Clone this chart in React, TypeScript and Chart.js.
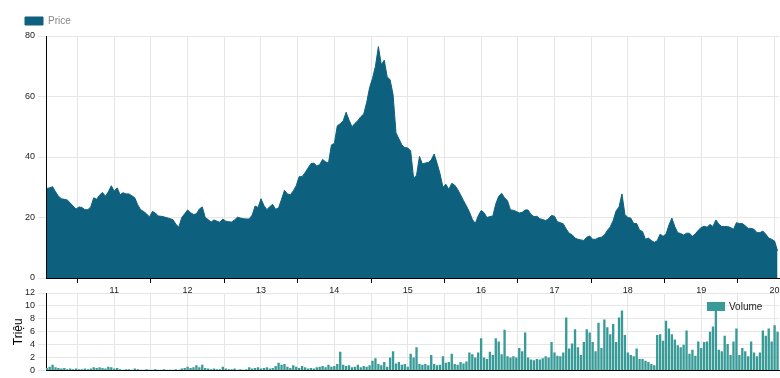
import React, { useEffect, useRef } from 'react';
import { Chart, registerables } from 'chart.js';
Chart.register(...registerables);

// Sampling of the series (years, decimal)
const START_YEAR = 2010.08;
const STEP_YEARS = 0.04;
const X_MIN = 2010.07;
const X_MAX = 2020.06;

// Half-year grid ticks; whole years get labels
const TICK_YEARS = [2010.5, 2011, 2011.5, 2012, 2012.5, 2013, 2013.5, 2014, 2014.5, 2015, 2015.5, 2016, 2016.5, 2017, 2017.5, 2018, 2018.5, 2019, 2019.5, 2020];

const PRICE = [
  29.6, 29.8, 30.2, 28.5, 27, 26.2, 26, 25.8, 24.8, 23.8,
  22.8, 23.5, 23.3, 22.6, 22.6, 23.5, 26.5, 26, 27.4, 28.3,
  27, 28.5, 30.5, 28.7, 29.8, 27.5, 28.2, 27.8, 27.8, 27.2,
  26.5, 24.2, 22.6, 22, 21.2, 20.2, 22, 21.5, 20.5, 20.4,
  20.2, 19.9, 19.6, 19.3, 17.8, 16.8, 20, 21.2, 22.5, 21.6,
  21, 21.2, 22.8, 23.5, 20, 19.3, 18.5, 19.2, 18.8, 18.4,
  19.5, 18.8, 18.6, 18.5, 19.2, 20.1, 19.8, 19.6, 19.5, 19.5,
  20.8, 23.8, 23.3, 26.2, 24, 22.6, 23.6, 24.3, 22.7, 23.2,
  26, 29, 27.8, 27.5, 28.8, 30.5, 33.5, 33.5, 34.8, 36.3,
  37.8, 38, 37, 37.5, 39.2, 38.4, 38, 44, 44.5, 50.3,
  51, 51.9, 54.8, 52.2, 50, 51.1, 52, 53.3, 54.2, 58,
  62.9, 66, 70, 76.5, 70.5, 72, 66.5, 65.5, 60.7, 48,
  46, 44, 43.1, 43, 42, 33, 34, 40.2, 37.7, 38,
  38.2, 39, 41, 37.9, 34.5, 30, 31, 29.3, 31.3, 30.7,
  29.3, 27.5, 25.6, 23.8, 21.9, 19.4, 18, 20.5, 22.3, 21.6,
  20, 20.3, 20.5, 24.5, 27, 28, 26.5, 25.5, 22.5, 22.4,
  22, 21.5, 21.7, 22.5, 22.5, 21, 20.3, 20.4, 19.6, 19.3,
  19, 19.6, 20.7, 20.4, 18.6, 18.3, 17.9, 16.2, 14.8, 14.3,
  13.2, 12.8, 12.6, 12.4, 13.5, 13.9, 12.8, 12.8, 13.3, 13.5,
  14.2, 15.7, 16.9, 19, 22.2, 23.5, 27.8, 21, 20, 19.8,
  18, 18, 15.8, 15.4, 12.8, 13.2, 12.4, 11.8, 12.3, 14.5,
  13.8, 14.5, 17.5, 19.8, 17, 15, 14.7, 14.2, 14.8, 14.8,
  13.8, 14.6, 15.8, 16.7, 17.1, 16.8, 17.7, 17, 19.2, 17.8,
  17, 17, 17, 16.7, 16.1, 18.3, 18, 18, 17.3, 16.4,
  16.4, 16.1, 15, 15, 15.5, 14.5, 13.2, 12.8, 12.2, 9,
];

// Volume in millions ("Triệu")
const VOLUME = [
  0.4, 0.6, 0.9, 0.5, 0.4, 0.3, 0.4, 0.2, 0.3, 0.2,
  0.3, 0.2, 0.2, 0.3, 0.2, 0.3, 0.5, 0.4, 0.5, 0.4,
  0.3, 0.6, 0.5, 0.3, 0.4, 0.2, 0.1, 0.2, 0.2, 0.1,
  0.3, 0.2, 0.1, 0.1, 0.2, 0.1, 0.1, 0.2, 0.1, 0.1,
  0.2, 0.1, 0.1, 0.1, 0.2, 0.1, 0.3, 0.4, 0.6, 0.4,
  0.5, 0.8, 0.5, 0.9, 0.4, 0.3, 0.2, 0.3, 0.2, 0.2,
  0.6, 0.3, 0.2, 0.2, 0.3, 0.1, 0.2, 0.1, 0.2, 0.5,
  0.3, 0.4, 0.5, 0.3, 0.4, 0.5, 0.3, 0.4, 0.7, 1.2,
  0.9, 1.0, 0.6, 0.4, 0.8, 0.6, 0.4, 0.7, 0.5, 0.3,
  0.4, 0.3, 0.5, 0.6, 0.7, 0.5, 0.9, 0.6, 0.7, 1.0,
  2.9, 0.9, 0.7, 0.8, 0.5, 0.6, 0.9, 0.5, 0.7, 0.6,
  0.8, 1.5, 1.9, 1.0, 0.8, 1.3, 0.6, 2.0, 3.0, 1.1,
  1.3, 0.9, 1.0, 0.6, 2.6, 2.0, 3.6, 1.0, 0.9, 1.0,
  0.8, 2.4, 1.0, 0.8, 0.9, 2.2, 1.2, 1.3, 2.6, 1.0,
  0.9, 1.3, 1.1, 1.4, 2.8, 2.5, 2.0, 2.8, 5.0, 2.0,
  1.8, 2.9, 2.4, 5.0, 4.5, 2.5, 6.3, 2.2, 2.0, 2.2,
  2.0, 3.5, 3.0, 5.9, 2.0, 1.7, 1.6, 1.8, 1.7, 1.9,
  2.2, 2.0, 4.4, 2.8, 2.3, 2.2, 2.8, 8.2, 3.4, 4.2,
  6.4, 3.6, 2.4, 4.4, 6.4, 5.9, 4.4, 3.0, 7.4, 3.5,
  7.9, 6.7, 5.6, 7.2, 4.4, 8.2, 9.3, 5.5, 2.8, 2.4,
  2.2, 3.4, 1.8, 1.8, 1.5, 1.3, 1.0, 0.8, 5.5, 5.6,
  4.6, 7.7, 6.5, 5.6, 4.8, 3.9, 3.6, 4.0, 6.2, 2.6,
  3.2, 2.3, 4.5, 3.5, 4.4, 4.5, 6.0, 6.8, 10.0, 3.2,
  3.0, 5.4, 4.1, 2.4, 4.5, 6.5, 2.4, 3.5, 3.0, 2.2,
  4.5, 2.8, 2.2, 2.8, 6.2, 5.4, 6.5, 4.5, 7.0, 6.0,
];

const PRICE_COLOR = '#0e617e';
const VOL_COLOR = '#389b98';
const GRID = '#e6e6e6';
const FAMILY = 'Arial, "Liberation Sans", sans-serif';

// Legend drawn inside the plot area, top-right (like the reference)
const insideLegend = {
  id: 'insideLegend',
  afterDatasetsDraw(chart: any) {
    const { ctx, chartArea } = chart;
    const ds = chart.data.datasets[0];
    const boxX = chartArea.right - 72;
    const boxY = chartArea.top + 9;
    ctx.save();
    ctx.fillStyle = ds.backgroundColor;
    ctx.fillRect(boxX, boxY, 18, 9);
    ctx.fillStyle = '#222';
    ctx.font = `10px ${FAMILY}`;
    ctx.textBaseline = 'middle';
    ctx.textAlign = 'left';
    ctx.fillText(ds.label, boxX + 22, boxY + 5);
    ctx.restore();
  },
};

export default function App() {
  const topRef = useRef<HTMLCanvasElement>(null);
  const botRef = useRef<HTMLCanvasElement>(null);

  useEffect(() => {
    document.body.style.margin = '0';
    const xs = PRICE.map((_, i) => START_YEAR + i * STEP_YEARS);
    const pricePts = PRICE.map((y, i) => ({ x: xs[i], y }));
    const volPts = VOLUME.map((y, i) => ({ x: xs[i], y }));
    const setTicks = (s: any) => { s.ticks = TICK_YEARS.map((v) => ({ value: v })); };

    const top = new Chart(topRef.current!, {
      type: 'line',
      data: {
        datasets: [{
          label: 'Price', data: pricePts, borderColor: PRICE_COLOR, backgroundColor: PRICE_COLOR,
          fill: 'origin', pointRadius: 0, borderWidth: 1, tension: 0,
        }],
      },
      options: {
        responsive: false, animation: false, devicePixelRatio: 1,
        layout: { padding: { left: 15, right: 1, top: 6, bottom: 0 } },
        plugins: {
          legend: {
            display: true, position: 'top', align: 'start',
            labels: { boxWidth: 18, boxHeight: 8, padding: 10, color: '#888', font: { family: FAMILY, size: 10 } },
          },
          tooltip: { enabled: false },
        },
        scales: {
          x: {
            type: 'linear', min: X_MIN, max: X_MAX,
            afterBuildTicks: setTicks,
            afterFit: (s: any) => { s.paddingLeft = 0; s.paddingRight = 0; s.height = 18; },
            ticks: {
              autoSkip: false, maxRotation: 0, color: '#222', padding: 2,
              font: { family: FAMILY, size: 9 },
              callback: (v: any) => (Number.isInteger(v) ? String(v % 100).padStart(2, '0') : ''),
            },
            grid: {
              color: GRID, tickLength: 5,
              tickColor: (c: any) => (c.tick && c.tick.value % 1 !== 0 ? '#000' : 'rgba(0,0,0,0)'),
            },
            border: { color: '#000' },
          },
          y: {
            min: 0, max: 80,
            afterFit: (s: any) => { s.width = 31; },
            ticks: { stepSize: 20, color: '#222', font: { family: FAMILY, size: 9 } },
            grid: { color: GRID },
            border: { color: '#000' },
          },
        },
      } as any,
    });

    const bot = new Chart(botRef.current!, {
      type: 'bar',
      data: {
        datasets: [{
          label: 'Volume', data: volPts as any, backgroundColor: VOL_COLOR, borderWidth: 0,
          barPercentage: 0.8, categoryPercentage: 1,
        }],
      },
      plugins: [insideLegend],
      options: {
        responsive: false, animation: false, devicePixelRatio: 1,
        layout: { padding: { left: 0, right: 1, top: 9, bottom: 7.5 } },
        plugins: {
          legend: { display: false },
          tooltip: { enabled: false },
        },
        scales: {
          x: {
            type: 'linear', min: X_MIN, max: X_MAX, offset: false,
            afterBuildTicks: setTicks,
            afterFit: (s: any) => { s.paddingLeft = 0; s.paddingRight = 0; s.height = 0; },
            ticks: { display: false },
            grid: { color: GRID, drawTicks: false, offset: false },
            border: { color: '#000' },
          },
          y: {
            min: 0, max: 12,
            afterFit: (s: any) => { s.width = 46; s.paddingTop = 0; s.paddingBottom = 0; },
            ticks: { stepSize: 2, autoSkip: false, color: '#222', font: { family: FAMILY, size: 9 } },
            title: { display: true, text: 'Triệu', color: '#000', font: { family: FAMILY, size: 12 }, padding: { top: 11, bottom: 0 } },
            grid: { color: GRID },
            border: { color: '#000' },
          },
        },
      } as any,
    });

    return () => { top.destroy(); bot.destroy(); };
  }, []);

  return (
    <div style={{ position: 'relative', width: 780, height: 378, background: '#fff' }}>
      <canvas ref={topRef} width={780} height={296} style={{ position: 'absolute', left: 0, top: 0 }} />
      <canvas ref={botRef} width={780} height={94} style={{ position: 'absolute', left: 0, top: 284 }} />
    </div>
  );
}
